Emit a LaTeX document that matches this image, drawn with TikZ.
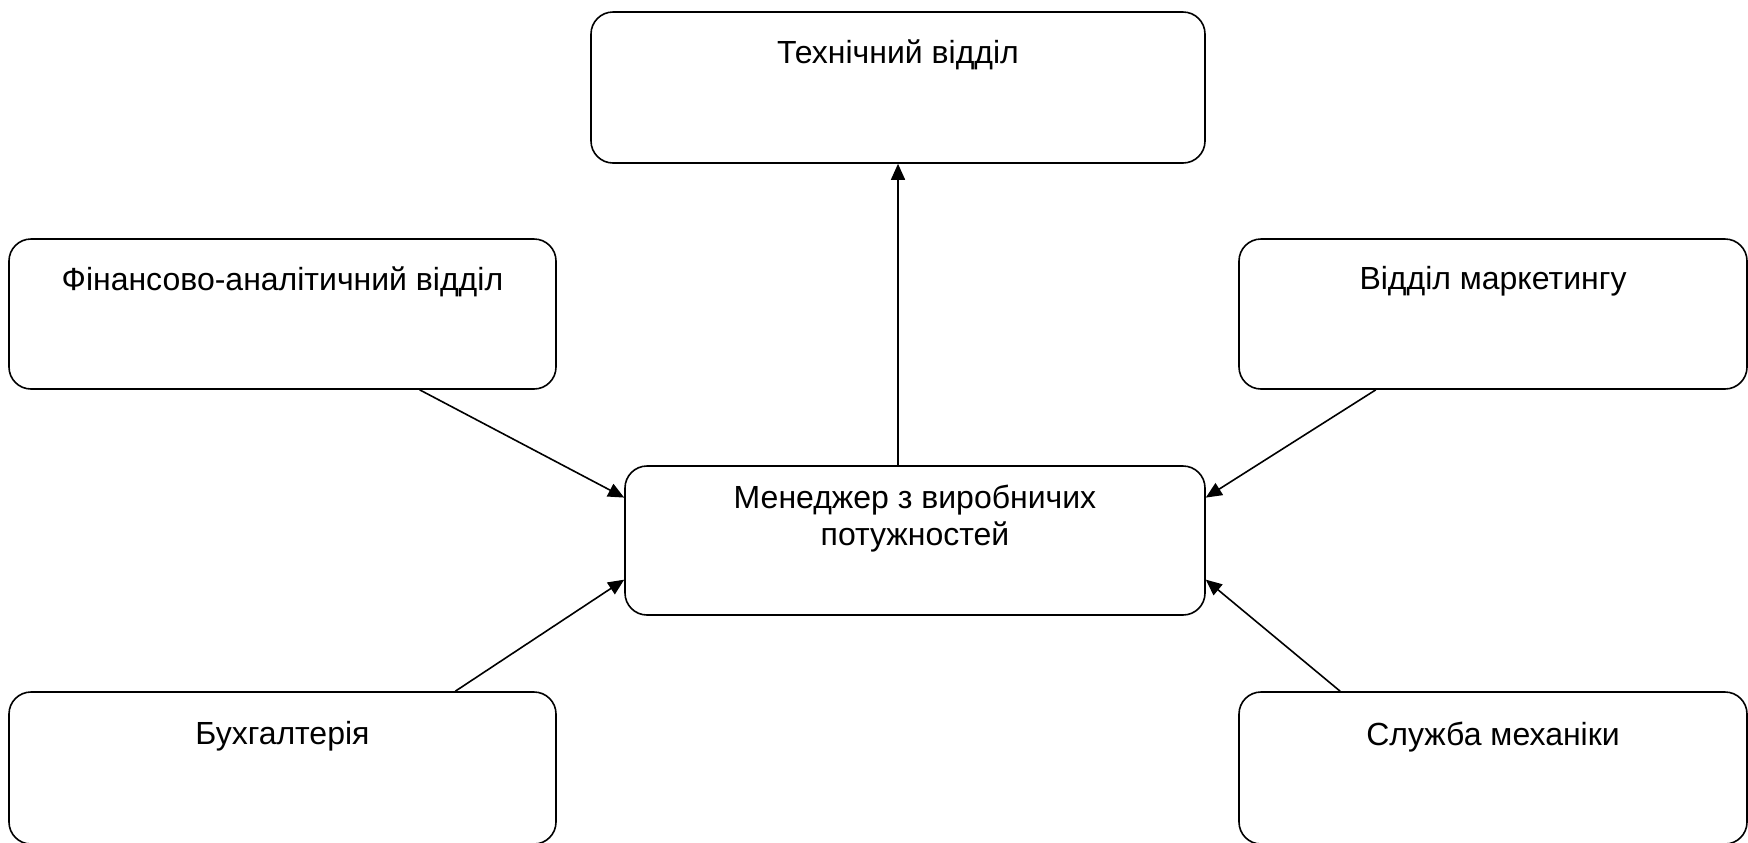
\documentclass[tikz,border=0pt]{standalone}
\usepackage{fontspec}
\setmainfont{Liberation Sans}
\usetikzlibrary{calc,arrows.meta}
\tikzset{
  dept/.style={draw, line width=0.8pt, rounded corners=11pt, fill=white, inner sep=0pt},
  deptname/.style={anchor=north, inner sep=0pt, yshift=-14pt, align=center},
  conn/.style={line width=0.8pt, -{Triangle[length=8pt,width=7pt]}},
}
\begin{document}
\begin{tikzpicture}[x=0.5pt,y=-0.5pt,font=\fontsize{16pt}{18.5pt}\selectfont]
\fill[white] (0,0) rectangle (1748,842);
\useasboundingbox (0,0) rectangle (1748,842);
% departments
\node[dept, minimum width=307pt, minimum height=75.5pt,
  label={[deptname]north:Технічний відділ}] (tech) at (898,87.5) {};
\node[dept, minimum width=273.5pt, minimum height=75pt,
  label={[deptname]north:Фінансово-аналітичний відділ}] (fin) at (282.5,314) {};
\node[dept, minimum width=254pt, minimum height=75pt,
  label={[deptname]north:Відділ маркетингу}] (mkt) at (1493,314) {};
\node[dept, minimum width=290pt, minimum height=74.5pt,
  label={[deptname,yshift=4.5pt]north:Менеджер з виробничих\\потужностей}] (mgr) at (915,540.5) {};
\node[dept, minimum width=273.5pt, minimum height=76pt,
  label={[deptname,yshift=-1pt]north:Бухгалтерія}] (bk) at (282.5,768) {};
\node[dept, minimum width=254pt, minimum height=76pt,
  label={[deptname,yshift=-1pt]north:Служба механіки}] (mech) at (1493,768) {};
% links
\draw[conn] (tech.south |- mgr.north) -- (tech.south);
\draw[conn] ($(fin.south west)!0.75!(fin.south east)$) --
  ($(mgr.north west)!0.215!(mgr.south west)$);
\draw[conn] ($(mkt.south west)!0.27!(mkt.south east)$) --
  ($(mgr.north east)!0.215!(mgr.south east)$);
\draw[conn] ($(bk.north west)!0.815!(bk.north east)$) --
  ($(mgr.north west)!0.76!(mgr.south west)$);
\draw[conn] ($(mech.north west)!0.2!(mech.north east)$) --
  ($(mgr.north east)!0.76!(mgr.south east)$);
\end{tikzpicture}
\end{document}
